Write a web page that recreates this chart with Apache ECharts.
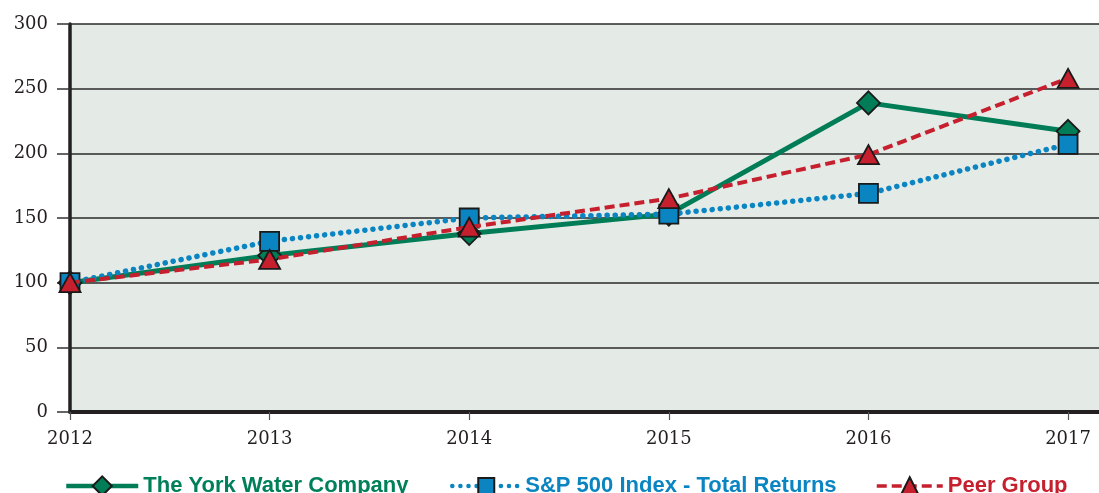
<!DOCTYPE html>
<html>
<head>
<meta charset="utf-8">
<script src="https://cdn.jsdelivr.net/npm/echarts@6/dist/echarts.min.js"></script>
<style>
  html, body { margin: 0; padding: 0; background: #fff; }
  #chart { width: 1099px; height: 493px; }
</style>
</head>
<body>
<div id="chart"></div>
<script>
// 累计总回报 2012-2017
var years = [2012, 2013, 2014, 2015, 2016, 2017];
var yorkWater = [100, 121, 138, 153, 239, 217];
var sp500 = [100, 132, 150, 153, 169, 207];
var peerGroup = [100, 118, 143, 165, 199, 258];
var yTicks = [0, 50, 100, 150, 200, 250, 300];

var chart = echarts.init(document.getElementById("chart"));

function pairs(vals) {
  return vals.map(function (v, i) { return [years[i], v]; });
}

var legendText = {
  fontFamily: "Liberation Sans",
  fontWeight: "bold",
  fontSize: 22
};

var option = {
  animation: false,
  grid: {
    left: 70,
    right: 0,
    top: 24,
    bottom: 81,
    show: true,
    backgroundColor: "#e4eae6",
    borderWidth: 0
  },
  legend: [
    {
      data: ["The York Water Company"],
      left: 64, top: 475, padding: 0,
      itemWidth: 72, itemHeight: 24,
      lineStyle: { width: 4.5 },
      textStyle: Object.assign({ color: "#00805a" }, legendText)
    },
    {
      data: ["S&P 500 Index - Total Returns"],
      left: 450, top: 475, padding: 0,
      itemWidth: 68, itemHeight: 20,
      lineStyle: { width: 4.5 },
      textStyle: Object.assign({ color: "#0a85c2" }, legendText)
    },
    {
      data: ["Peer Group"],
      left: 875, top: 475, padding: 0,
      itemWidth: 66, itemHeight: 22,
      lineStyle: { width: 3.5 },
      textStyle: Object.assign({ color: "#c61f2e" }, legendText)
    }
  ],
  xAxis: {
    type: "value",
    min: 2012,
    max: 2017.155,
    interval: 1,
    axisLine: { show: true, onZero: false, lineStyle: { color: "#231f20", width: 4 } },
    axisTick: { show: true, length: 8, lineStyle: { color: "#555", width: 1.2 } },
    splitLine: { show: false },
    axisLabel: {
      margin: 18,
      color: "#231f20",
      fontFamily: "DejaVu Serif",
      fontSize: 18,
      showMaxLabel: false,
      formatter: function (v) {
        return years.indexOf(v) >= 0 ? String(v) : "";
      }
    }
  },
  yAxis: {
    type: "value",
    min: yTicks[0],
    max: yTicks[yTicks.length - 1],
    interval: 50,
    axisLine: { show: true, lineStyle: { color: "#231f20", width: 3.5 } },
    axisTick: { show: true, length: 13, lineStyle: { color: "#333", width: 1.5 } },
    splitLine: { show: true, lineStyle: { color: "#2a2a2a", width: 1.5 } },
    axisLabel: {
      margin: 22,
      color: "#231f20",
      fontFamily: "DejaVu Serif",
      fontSize: 18
    }
  },
  series: [
    {
      name: "The York Water Company",
      type: "line",
      data: pairs(yorkWater),
      symbol: "diamond",
      symbolSize: [23, 23],
      z: 3,
      color: "#007d57",
      lineStyle: { color: "#007d57", width: 5 },
      itemStyle: { color: "#007d57", borderColor: "#1a1a1a", borderWidth: 1.8 }
    },
    {
      name: "S&P 500 Index - Total Returns",
      type: "line",
      data: pairs(sp500),
      symbol: "rect",
      symbolSize: 19,
      z: 4,
      color: "#0a85c2",
      lineStyle: { color: "#0a85c2", width: 5.5, type: [0.1, 8], cap: "round" },
      itemStyle: { color: "#0a85c2", borderColor: "#1a1a1a", borderWidth: 1.8 }
    },
    {
      name: "Peer Group",
      type: "line",
      data: pairs(peerGroup),
      symbol: "triangle",
      symbolSize: [21, 19],
      z: 5,
      color: "#c61f2e",
      lineStyle: { color: "#c61f2e", width: 4, type: [10, 5] },
      itemStyle: { color: "#c61f2e", borderColor: "#1a1a1a", borderWidth: 1.8 }
    }
  ]
};

chart.setOption(option);
</script>
</body>
</html>
